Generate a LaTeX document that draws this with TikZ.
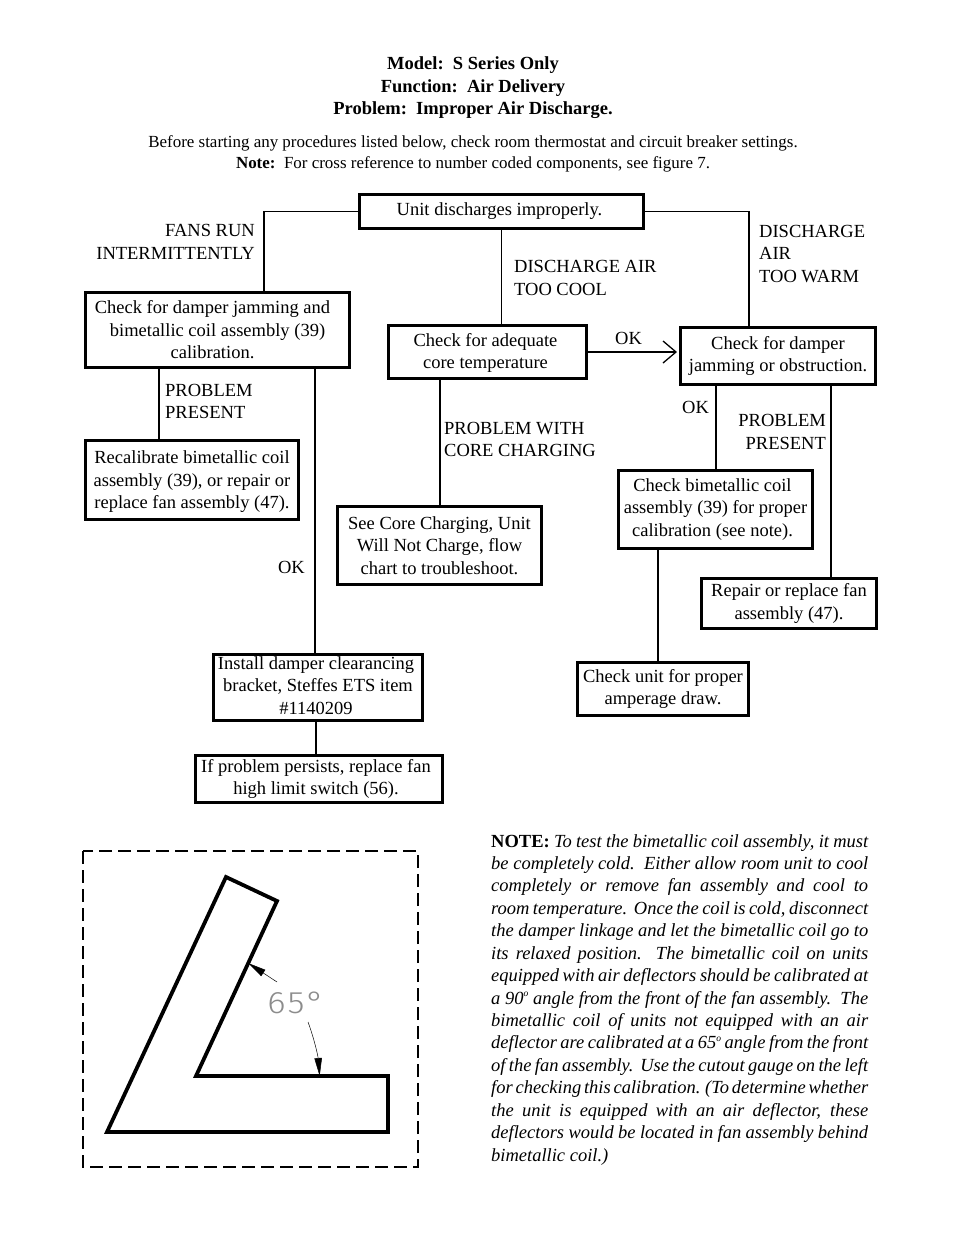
\documentclass[tikz,border=0pt]{standalone}
\usepackage{fontspec}
\setmainfont{Liberation Serif}
\newfontfamily\gaugefont[UprightFont={* Light},FakeStretch=1.12,LetterSpace=7]{Fira Sans}
\usetikzlibrary{arrows.meta,positioning,calc}
\newcommand\pad[1]{\hspace*{#1pt}}
\newcommand\degmark{\raisebox{.42em}{\fontsize{9.5}{9.5}\selectfont o}}
\begin{document}
\begin{tikzpicture}[x=1pt,y=-1pt]
      \tikzstyle{flowbox}=[draw,line width=3pt,align=center,inner sep=0pt,font=\fontsize{18.5}{22.5}\selectfont]
      \tikzstyle{flowtag}=[inner sep=0pt,font=\fontsize{18.5}{22.5}\selectfont]
      \tikzstyle{flowline}=[line width=1.3pt]
      \tikzstyle{gaugearrow}=[line width=.5pt,-{Triangle[length=18pt,width=7.5pt]}]
      \useasboundingbox (0,0) rectangle (954,1235);
      % heading
      \node[align=center,inner sep=0pt,font=\fontsize{18.5}{22.5}\selectfont\bfseries] (title) at (473,88) {Model:\ \ S Series Only\\Function:\ \ Air Delivery\\Problem:\ \ Improper Air Discharge.};
      \node[align=center,inner sep=0pt,font=\fontsize{16.95}{21.5}\selectfont] (before) at (473,154) {Before starting any procedures listed below, check room thermostat and circuit breaker settings.\\\textbf{Note:}\ \ For cross reference to number coded components, see figure 7.};
      % boxes
      \node[flowbox,minimum width=284pt,minimum height=34pt] (unit) at (501.5,211.5) {Unit discharges improperly.\pad{4}};
      \node[flowbox,minimum width=264pt,minimum height=75pt] (jamcoil) at (217.5,330) {Check for damper jamming and\pad{10}\\bimetallic coil assembly (39)\pad{10}\\calibration.\pad{10}};
      \node[flowbox,minimum width=198pt,minimum height=53pt] (core) at (487.5,352) {\rule{0pt}{15pt}Check for adequate\pad{4}\\core temperature\pad{4}};
      \node[flowbox,minimum width=195pt,minimum height=57pt] (jam) at (778,356) {Check for damper\\jamming or obstruction.};
      \node[flowbox,minimum width=213pt,minimum height=79pt] (recal) at (192,480) {\rule{0pt}{16pt}Recalibrate bimetallic coil\\assembly (39), or repair or\\replace fan assembly (47).};
      \node[flowbox,minimum width=204pt,minimum height=78pt] (charging) at (439.5,545.5) {See Core Charging, Unit\\Will Not Charge, flow\\chart to troubleshoot.};
      \node[flowbox,minimum width=194pt,minimum height=78pt] (coil) at (715.5,509.5) {Check bimetallic coil\pad{6}\\assembly (39) for proper\pad{6}\\calibration (see note).\pad{6}};
      \node[flowbox,minimum width=175pt,minimum height=50pt] (repair) at (789,603.5) {Repair or replace fan\\assembly (47).};
      \node[flowbox,minimum width=171pt,minimum height=53pt] (amps) at (663,689) {Check unit for proper\\amperage draw.};
      \node[flowbox,minimum width=209pt,minimum height=66pt] (bracket) at (318,687.5) {Install damper clearancing\pad{4}\\bracket, Steffes ETS item\pad{4}\\\#1140209\rule[-4pt]{0pt}{0pt}\pad{4}};
      \node[flowbox,minimum width=247pt,minimum height=47pt] (limit) at (319,779) {If problem persists, replace fan\pad{6}\\high limit switch (56).\pad{6}};
      % connectors
      \draw[flowline] (unit.west) -| ([xshift=46.5pt]jamcoil.north);
      \draw[flowline] (unit.south) -- (unit.south |- core.north);
      \draw[flowline] (unit.east) -| ([xshift=-29pt]jam.north);
      \draw[flowline,-{Straight Barb[length=13pt,width=22pt]}] (core.east) -- ([xshift=-2pt]core.east -| jam.west);
      \draw[flowline] ([xshift=-58.5pt]jamcoil.south) -- ([xshift=-33pt]recal.north);
      \draw[flowline] ([xshift=97.5pt]jamcoil.south) -- ([xshift=-3pt]bracket.north);
      \draw[flowline] ([xshift=-2pt]bracket.south) -- ([xshift=-3pt]limit.north);
      \draw[flowline] ([xshift=-47.5pt]core.south) -- ([xshift=.5pt]charging.north);
      \draw[flowline] ([xshift=-62pt]jam.south) -- ([xshift=.5pt]coil.north);
      \draw[flowline] ([xshift=53pt]jam.south) -- ([xshift=42pt]repair.north);
      \draw[flowline] ([xshift=-57.5pt]coil.south) -- ([xshift=-5pt]amps.north);
      % connector labels
      \node[flowtag,align=right,anchor=east] (fans) at (255,242) {FANS RUN\\INTERMITTENTLY};
      \node[flowtag,align=left,anchor=west] (cool) at (514,278) {DISCHARGE AIR\\TOO COOL};
      \node[flowtag,align=left,anchor=west] (warm) at (759,254) {DISCHARGE\\AIR\\TOO WARM};
      \node[flowtag,anchor=west] (okcore) at (615,338) {OK};
      \node[flowtag,anchor=west] (okjam) at (682,407) {OK};
      \node[flowtag,align=right,anchor=east] (presentjam) at (826,432) {PROBLEM\\PRESENT};
      \node[flowtag,align=left,anchor=west] (withcore) at (444,439.5) {PROBLEM WITH\\CORE CHARGING};
      \node[flowtag,align=left,anchor=west] (presentcoil) at (165,401.5) {PROBLEM\\PRESENT};
      \node[flowtag,anchor=east] (okcoil) at (305,567) {OK};
      % cutout gauge
      \draw[line width=1.2pt,dash pattern=on 13pt off 6pt] (83,851) rectangle (418,1167);
      \draw[line width=3.8pt,line join=miter] (226,877) coordinate (tip) -- (277,901) coordinate (tipb) -- (196,1076) coordinate (heel) -- (388,1076) coordinate (toe) -- (388,1132) -- (107,1132) -- cycle;
      \node[inner sep=0pt,text=black!45,font=\gaugefont\fontsize{31}{31}\selectfont] (angle) at (296,1003) {65\textdegree};
      \draw[gaugearrow] (277,982) -- ($(heel)!.645!(tipb)$);
      \draw[gaugearrow] (308,1022) .. controls (314,1038) and (318,1056) .. ($(heel)!.644!(toe)$);
      % note
      \node[anchor=north west,inner sep=0pt,text width=377pt,align=justify,font=\fontsize{18.5}{22.43}\selectfont\itshape] (note) at (491,834) {\tolerance=9999\emergencystretch=20pt\hbadness=10000\hfuzz=10pt
        \textup{\textbf{NOTE:}} To test the bimetallic coil assembly, it must\linebreak
        be completely cold.\ \ Either allow room unit to cool\linebreak
        completely or remove fan assembly and cool to\linebreak
        room temperature.\ \ Once the coil is cold, disconnect\linebreak
        the damper linkage and let the bimetallic coil go to\linebreak
        its relaxed position.\ \ The bimetallic coil on units\linebreak
        equipped with air deflectors should be calibrated at\linebreak
        a 90\degmark{} angle from the front of the fan assembly.\ \ The\linebreak
        bimetallic coil of units not equipped with an air\linebreak
        deflector are calibrated at a 65\degmark{} angle from the front\linebreak
        of the fan assembly.\ \ Use the cutout gauge on the left\linebreak
        {\spaceskip=.14em plus .1em minus .04em for checking this calibration. (To determine whether}\linebreak
        the unit is equipped with an air deflector, these\linebreak
        deflectors would be located in fan assembly behind\linebreak
        bimetallic coil.)};
    \end{tikzpicture}
\end{document}
